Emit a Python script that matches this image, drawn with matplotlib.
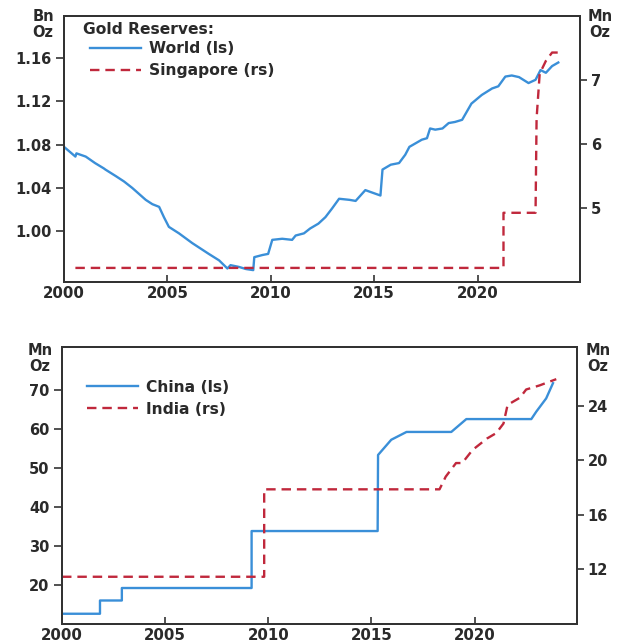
import numpy as np
import matplotlib.pyplot as plt

plt.rcParams['font.family'] = ['DejaVu Sans']
plt.rcParams['font.weight'] = 'bold'
plt.rcParams['font.size'] = 10.5
plt.rcParams['text.color'] = '#2a2a2a'
plt.rcParams['xtick.color'] = '#333333'
plt.rcParams['ytick.color'] = '#333333'
plt.rcParams['xtick.labelcolor'] = '#2a2a2a'
plt.rcParams['ytick.labelcolor'] = '#2a2a2a'

blue = '#3a8fd8'
red = '#c0283c'

# ---- top panel data: world (bn oz, left) and Singapore (mn oz, right)
world_x = [2000.0, 2000.55, 2000.6, 2001.05, 2001.5, 2001.93, 2002.0, 2002.5, 2002.9,
           2003.3, 2003.95, 2004.27, 2004.6, 2004.83, 2005.07, 2005.56, 2006.2, 2007.0,
           2007.5, 2007.9, 2008.05, 2008.45, 2008.8, 2009.15, 2009.2, 2009.6, 2009.87,
           2010.07, 2010.55, 2011.03, 2011.2, 2011.6, 2011.9, 2012.3, 2012.64, 2012.96,
           2013.3, 2013.8, 2014.1, 2014.57, 2014.8, 2015.3, 2015.4, 2015.8, 2016.2,
           2016.5, 2016.7, 2017.3, 2017.55, 2017.7, 2017.95, 2018.3, 2018.6, 2018.9,
           2019.25, 2019.7, 2020.2, 2020.7, 2021.0, 2021.34, 2021.65, 2022.0, 2022.46,
           2022.8, 2023.04, 2023.3, 2023.6, 2023.9]
world_y = [1.078, 1.069, 1.072, 1.069, 1.063, 1.058, 1.057, 1.051, 1.046,
           1.040, 1.029, 1.025, 1.0225, 1.013, 1.004, 0.998, 0.989, 0.979,
           0.973, 0.9655, 0.9686, 0.967, 0.965, 0.964, 0.976, 0.978, 0.979,
           0.992, 0.993, 0.992, 0.996, 0.998, 1.0025, 1.007, 1.013, 1.021,
           1.030, 1.029, 1.028, 1.038, 1.0364, 1.033, 1.057, 1.0615, 1.063,
           1.0707, 1.078, 1.0846, 1.086, 1.095, 1.0939, 1.095, 1.100, 1.101,
           1.103, 1.118, 1.126, 1.132, 1.134, 1.143, 1.144, 1.1425, 1.137,
           1.140, 1.149, 1.1465, 1.1527, 1.156]

sing_x = [2000.55, 2021.25, 2021.25, 2022.8, 2022.85, 2023.0, 2023.15, 2023.3, 2023.6, 2023.9]
sing_y = [4.07, 4.07, 4.93, 4.93, 6.4, 7.1, 7.2, 7.3, 7.43, 7.43]

# ---- bottom panel data: China (mn oz, left) and India (mn oz, right)
china_x = [2000.0, 2001.84, 2001.84, 2002.9, 2002.9, 2009.19, 2009.19, 2015.3, 2015.32,
           2015.96, 2016.7, 2018.87, 2019.6, 2022.75, 2022.99, 2023.47, 2023.8]
china_y = [12.6, 12.6, 16.0, 16.0, 19.2, 19.2, 33.8, 33.8, 53.3,
           57.2, 59.2, 59.2, 62.5, 62.5, 64.4, 67.8, 71.7]

india_x = [2000.0, 2009.8, 2009.8, 2018.3, 2018.6, 2019.1, 2019.4, 2019.9, 2020.6,
           2021.05, 2021.4, 2021.6, 2022.2, 2022.5, 2023.15, 2023.96]
india_y = [11.45, 11.45, 17.87, 17.87, 18.8, 19.8, 19.8, 20.76, 21.6,
           22.0, 22.7, 24.07, 24.6, 25.2, 25.5, 25.96]

xticks = [2000, 2005, 2010, 2015, 2020]

W, H = 624, 643
fig = plt.figure(figsize=(6.24, 6.43), dpi=100)
ax1 = fig.add_axes([0.1026, 0.5614, 0.8269, 0.4137])
ax2 = ax1.twinx()
ax3 = fig.add_axes([0.0994, 0.0291, 0.8248, 0.4308])
ax4 = ax3.twinx()


def style(ax_l, ax_r):
    for ax in (ax_l, ax_r):
        for sp in ax.spines.values():
            sp.set_color('#333333')
            sp.set_linewidth(1.4)
    ax_l.set_xlim(2000, 2024.95)
    ax_l.set_xticks(xticks)
    ax_l.tick_params(axis='x', direction='in', length=5, width=1.2, pad=3, labelsize=10.8)
    ax_l.tick_params(axis='y', direction='out', length=6, width=1.2, pad=3)
    ax_r.tick_params(axis='y', direction='out', length=5, width=1.2, pad=3)
    ax_l.tick_params(top=False)


leg_kw = dict(frameon=False, loc='upper left', bbox_transform=fig.transFigure,
              handlelength=3.3, handletextpad=0.5, labelspacing=0.45,
              borderpad=0, borderaxespad=0, fontsize=11.2)

style(ax1, ax2)
l1, = ax1.plot(world_x, world_y, color=blue, lw=1.7)
l2, = ax2.plot(sing_x, sing_y, color=red, lw=1.7, dashes=(4, 2.5))
ax1.set_ylim(0.953, 1.199)
ax1.set_yticks([1.00, 1.04, 1.08, 1.12, 1.16])
ax1.set_yticklabels(['1.00', '1.04', '1.08', '1.12', '1.16'])
ax2.set_ylim(3.85, 8.0)
ax2.set_yticks([5, 6, 7])
leg = ax2.legend([l1, l2], ['World (ls)', 'Singapore (rs)'],
                 bbox_to_anchor=(90 / W, 1 - 41 / H), **leg_kw)
fig.text(83 / W, 1 - 29 / H, 'Gold Reserves:', ha='left', va='center', fontsize=11.2)

style(ax3, ax4)
l3, = ax3.plot(china_x, china_y, color=blue, lw=1.7)
l4, = ax4.plot(india_x, india_y, color=red, lw=1.7, dashes=(4, 2.5))
ax3.set_ylim(9.9, 80.9)
ax3.set_yticks([20, 30, 40, 50, 60, 70])
ax4.set_ylim(7.96, 28.3)
ax4.set_yticks([12, 16, 20, 24])
ax4.legend([l3, l4], ['China (ls)', 'India (rs)'],
           bbox_to_anchor=(87 / W, 1 - 379.5 / H), **leg_kw)

# unit labels
fig.text(43 / W, 1 - 9 / H, 'Bn\nOz', ha='center', va='top', linespacing=1.05)
fig.text(600 / W, 1 - 9 / H, 'Mn\nOz', ha='center', va='top', linespacing=1.05)
fig.text(40 / W, 1 - 343 / H, 'Mn\nOz', ha='center', va='top', linespacing=1.05)
fig.text(598 / W, 1 - 343 / H, 'Mn\nOz', ha='center', va='top', linespacing=1.05)

fig.savefig('out.png', dpi=100, facecolor='white')
